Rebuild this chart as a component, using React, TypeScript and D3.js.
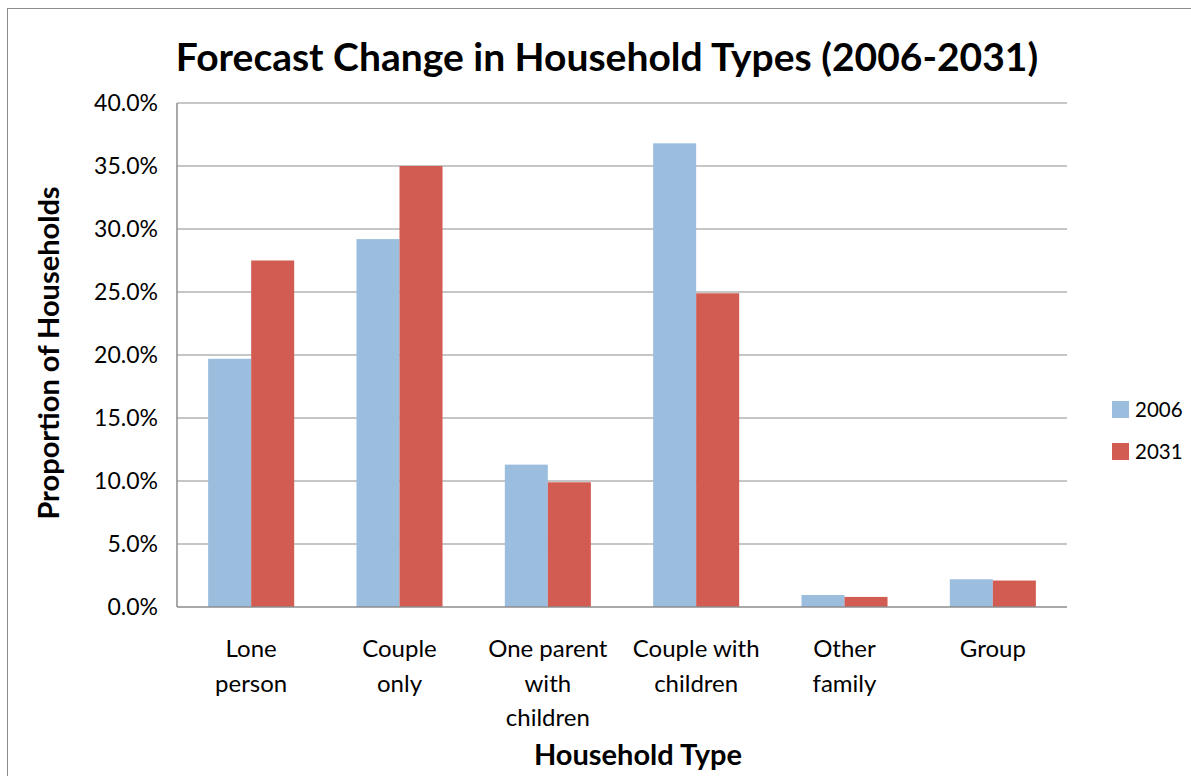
import React from "react";
import * as d3 from "d3";

const categories: string[][] = [
  ["Lone", "person"],
  ["Couple", "only"],
  ["One parent", "with", "children"],
  ["Couple with", "children"],
  ["Other", "family"],
  ["Group"],
];
const series2006 = [19.7, 29.2, 11.3, 36.8, 0.95, 2.2];
const series2031 = [27.5, 35.0, 9.9, 24.9, 0.8, 2.1];
const seriesNames = ["2006", "2031"];
const seriesColors = ["#9BBEDF", "#D25B52"];
const yTicks = [0, 5, 10, 15, 20, 25, 30, 35, 40];

const W = 1191;
const H = 776;
const FONT = "Lato, 'Open Sans', sans-serif";

export default function App() {
  const left = 177, right = 1067, top = 103, bottom = 607;
  const x0 = d3
    .scaleBand<number>()
    .domain(d3.range(categories.length))
    .range([left, right])
    .paddingInner(0.42)
    .paddingOuter(0.21);
  const x1 = d3.scaleBand<number>().domain([0, 1]).range([0, x0.bandwidth()]);
  const y = d3.scaleLinear().domain([0, 40]).range([bottom, top]);
  const data = [series2006, series2031];

  return (
    <div style={{ position: "absolute", left: 0, top: 0 }}>
      <svg width={W} height={H} style={{ display: "block" }} fontFamily={FONT}>
        <rect x={0} y={0} width={W} height={H} fill="#fff" />
        <rect x={7.5} y={8.5} width={W + 10} height={H + 10} fill="none" stroke="#8c8c8c" strokeWidth={1} />
        <text x={607} y={71} textAnchor="middle" fontSize={39} fontWeight="bold" fill="#000">
          Forecast Change in Household Types (2006-2031)
        </text>
        {yTicks.map((t) => (
          <g key={t}>
            {t > 0 && (
              <line x1={left} x2={right} y1={y(t)} y2={y(t)} stroke="#b3b3b3" strokeWidth={1.5} />
            )}
            <text x={158} y={y(t)} dy="0.35em" textAnchor="end" fontSize={23} fill="#000">
              {t.toFixed(1) + "%"}
            </text>
          </g>
        ))}
        {data.map((s, si) =>
          s.map((v, i) => (
            <rect
              key={si + "-" + i}
              x={(x0(i) as number) + (x1(si) as number)}
              y={y(v)}
              width={x1.bandwidth()}
              height={y(0) - y(v)}
              fill={seriesColors[si]}
            />
          ))
        )}
        <line x1={left} x2={left} y1={top} y2={bottom} stroke="#8c8c8c" strokeWidth={1.5} />
        <line x1={left} x2={right} y1={bottom} y2={bottom} stroke="#8c8c8c" strokeWidth={1.5} />
        {categories.map((lines, i) => (
          <text
            key={i}
            x={(x0(i) as number) + x0.bandwidth() / 2}
            y={657}
            textAnchor="middle"
            fontSize={24}
            fill="#000"
          >
            {lines.map((l, j) => (
              <tspan key={j} x={(x0(i) as number) + x0.bandwidth() / 2} dy={j === 0 ? 0 : 34.5}>
                {l}
              </tspan>
            ))}
          </text>
        ))}
        <text x={638} y={765} textAnchor="middle" fontSize={29} fontWeight="bold" fill="#000">
          Household Type
        </text>
        <text
          transform={`translate(59,353) rotate(-90)`}
          textAnchor="middle"
          fontSize={29}
          fontWeight="bold"
          fill="#000"
        >
          Proportion of Households
        </text>
        {seriesNames.map((n, i) => (
          <g key={n}>
            <rect x={1112} y={401 + i * 42} width={17} height={17} fill={seriesColors[i]} />
            <text x={1135} y={410 + i * 42} dy="0.35em" fontSize={20.5} fill="#000">
              {n}
            </text>
          </g>
        ))}
      </svg>
    </div>
  );
}
